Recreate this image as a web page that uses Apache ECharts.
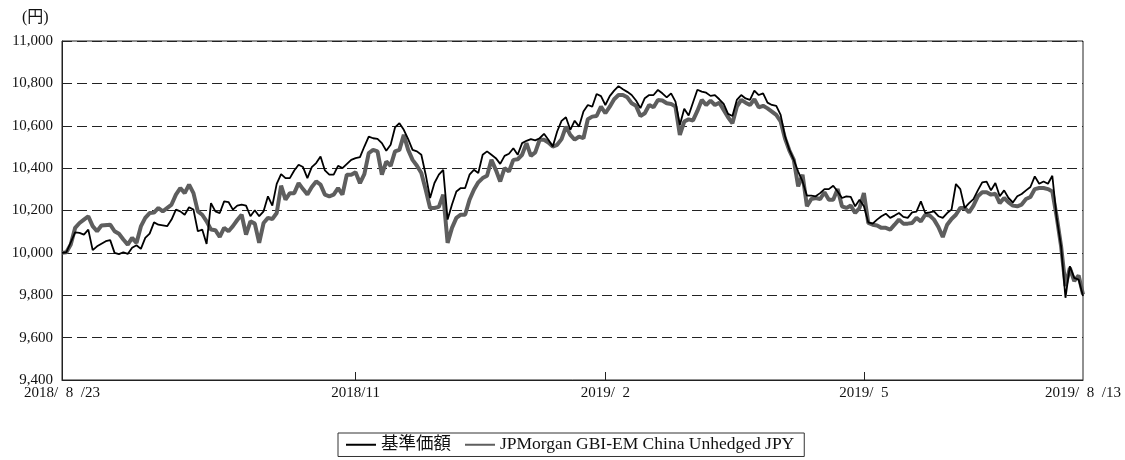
<!DOCTYPE html>
<html><head><meta charset="utf-8">
<script src="https://cdn.jsdelivr.net/npm/echarts@6/dist/echarts.min.js"></script>
<style>html,body{margin:0;padding:0;background:#fff}#c{width:1125px;height:460px}</style>
</head><body><div id="c"></div>
<script>
// x position = Japanese business-day index from 2018/8/23 (0) to 2019/8/13 (233)
const tickDays = [0, 67, 124, 183, 233];
const tickLabels = ['2018/\u20028\u2002/23', '2018/11', '2019/\u20022', '2019/\u20025', '2019/\u20028\u2002/13'];
const seriesNames = ['基準価額', 'JPMorgan GBI-EM China Unhedged JPY'];
const unitLabel = '(円)';

// 基準価額 (null = not read, line connects neighbours)
const navValues = [
  10000, 10003, null, 10097, 10094, 10086, 10110, 10013, 10031, null,
  10055, 10060, 10000, 9994, 10003, 9995, 10024, 10036, 10019, 10071,
  10091, 10144, 10133, null, 10126, 10157, 10204, 10196, 10180, 10215,
  10204, 10102, 10110, 10042, 10235, 10196, 10188, 10243, 10240, 10204,
  10223, 10228, 10223, 10173, 10201, 10173, 10196, 10267, 10223, 10326,
  10372, 10353, 10353, 10389, 10416, 10405, 10353, 10405, 10424, 10455,
  10389, 10369, 10369, 10411, 10400, null, 10439, 10447, 10452, 10502,
  10549, 10541, 10538, 10518, 10482, 10510, 10592, 10612, 10581, 10537,
  10486, 10479, 10463, 10369, 10259, 10330, 10369, 10392, 10157, 10228,
  10290, 10306, 10306, 10369, 10392, 10377, 10463, 10479, 10463, 10447,
  10420, 10458, 10468, 10494, 10463, 10518, 10529, 10537, 10531, 10541,
  10562, 10534, 10502, 10573, 10623, 10640, 10581, 10624, 10596, 10667,
  10698, 10690, 10750, 10740, 10698, 10740, 10766, 10787, 10772, 10760,
  10745, 10719, 10683, 10730, 10745, 10745, 10769, 10753, 10734, 10753,
  10714, 10604, 10680, 10648, 10710, 10770, 10761, 10756, 10741, 10745,
  10725, 10703, 10656, 10646, 10722, 10745, 10729, 10722, 10766, 10745,
  10753, 10709, 10698, 10694, 10651, 10550, 10486, 10439, 10384, 10337,
  10270, 10270, 10267, 10282, 10301, 10301, 10317, 10290, 10259, 10267,
  10264, 10220, 10251, 10220, 10144, 10138, 10157, 10173, 10185, 10165,
  10176, 10188, 10170, 10165, 10191, 10195, 10243, 10188, 10191, 10196,
  10173, 10165, 10188, 10204, 10325, 10301, 10212, 10235, 10254, 10295,
  10333, 10336, 10295, 10330, 10267, 10295, 10259, 10238, 10267, 10278,
  10295, 10311, 10361, 10326, 10337, 10326, 10364, 10165, 10031, 9788,
  9937, 9882, 9874, 9796
];

// JPMorgan GBI-EM China Unhedged JPY
const benchValues = [
  10000, 10003, 10039, 10118, 10141, 10157, 10173, 10126, 10102, 10129,
  null, 10133, 10102, 10090, 10063, 10039, 10071, 10047, 10125, 10165,
  10188, 10190, 10212, 10196, null, 10228, 10275, 10306, 10282, 10322,
  10282, 10196, 10180, 10149, 10110, 10107, 10075, 10118, 10102, 10126,
  10155, 10180, 10086, 10149, 10138, 10047, 10141, 10165, 10160, 10188,
  10317, 10251, 10282, 10282, 10329, 10301, 10275, 10311, 10337, 10322,
  10275, 10267, 10275, 10306, 10275, 10369, 10369, 10380, 10329, 10372,
  10471, 10486, 10479, 10369, 10431, 10411, 10479, 10486, 10557, 10486,
  10439, 10411, 10377, 10298, 10212, 10212, 10217, 10275, 10047, 10118,
  10165, 10180, 10180, 10251, 10298, 10333, 10353, 10364, 10439, 10392,
  10337, 10400, 10384, 10439, 10442, 10463, 10518, 10458, 10474, 10534,
  10534, 10521, 10502, 10510, 10537, 10596, 10557, 10534, 10549, 10541,
  10631, 10643, 10646, 10690, 10659, 10690, 10725, 10745, 10745, 10734,
  10706, 10694, 10646, 10659, 10698, 10687, 10722, 10719, 10706, 10703,
  10690, 10557, 10620, 10630, 10625, 10670, 10722, 10698, 10719, 10698,
  10709, 10675, 10640, 10612, 10690, 10722, 10709, 10698, 10725, 10687,
  10694, 10682, 10667, 10651, 10620, 10540, 10483, 10439, 10314, 10369,
  10220, 10254, 10259, 10254, 10286, 10251, 10251, 10301, 10220, 10212,
  10223, 10188, 10212, 10282, 10141, 10133, 10129, 10118, 10118, 10110,
  10133, 10157, 10138, 10138, 10141, 10165, 10149, 10180, 10176, 10157,
  10122, 10075, 10133, 10160, 10180, 10212, 10212, 10191, 10223, 10267,
  10286, 10286, 10275, 10279, 10235, 10259, 10238, 10223, 10220, 10228,
  10254, 10264, 10301, 10306, 10306, 10301, 10290, 10170, 10031, 9843,
  9929, 9867, 9893, 9804
];

const FONT = '"Liberation Serif", "Noto Sans CJK JP", serif';
const toPairs = arr => arr.map((v, i) => [i, v]);

const chart = echarts.init(document.getElementById('c'), null, {renderer: 'canvas'});
chart.setOption({
  animation: false,
  backgroundColor: '#ffffff',
  textStyle: {fontFamily: FONT},
  grid: {left: 62, right: 42, top: 41, bottom: 80, show: true, borderColor: '#222', borderWidth: 1, backgroundColor: 'transparent'},
  xAxis: {
    type: 'value', min: 0, max: tickDays[tickDays.length - 1],
    splitLine: {show: false},
    axisLine: {show: true, lineStyle: {color: '#222', width: 1}},
    axisTick: {show: true, inside: true, length: 8, customValues: tickDays.slice(1, -1), lineStyle: {color: '#222'}},
    axisLabel: {
      customValues: tickDays,
      formatter: v => { const k = tickDays.indexOf(v); return k >= 0 ? tickLabels[k] : ''; },
      fontFamily: FONT, fontSize: 15, color: '#111', margin: 6
    }
  },
  yAxis: {
    type: 'value', min: 9400, max: 11000, interval: 200,
    axisLine: {show: true, lineStyle: {color: '#222', width: 1}},
    axisTick: {show: false},
    axisLabel: {formatter: v => v.toLocaleString('en-US'), fontFamily: FONT, fontSize: 15, color: '#111', margin: 9},
    splitLine: {show: true, lineStyle: {type: [10, 5], color: '#222', width: 1}}
  },
  legend: {
    data: [seriesNames[0], seriesNames[1]],
    left: 338, top: 433,
    borderColor: '#333', borderWidth: 1,
    padding: [3, 10, 3, 7],
    itemWidth: 30, itemHeight: 12, itemGap: 13,
    itemStyle: {opacity: 0},
    textStyle: {fontFamily: FONT, fontSize: 17.5, color: '#111'}
  },
  graphic: [{
    type: 'text', left: 22, top: 10,
    style: {text: unitLabel, font: '16px "Liberation Serif", "Noto Sans CJK JP", serif', fill: '#111'}
  }],
  series: [
    {
      name: seriesNames[1], type: 'line', data: toPairs(benchValues),
      symbol: 'none', connectNulls: true, z: 2,
      lineStyle: {color: '#5e5e5e', width: 4}, itemStyle: {color: '#5e5e5e'}
    },
    {
      name: seriesNames[0], type: 'line', data: toPairs(navValues),
      symbol: 'none', connectNulls: true, z: 3,
      lineStyle: {color: '#000000', width: 1.8}, itemStyle: {color: '#000000'}
    }
  ]
});
</script>
</body></html>
